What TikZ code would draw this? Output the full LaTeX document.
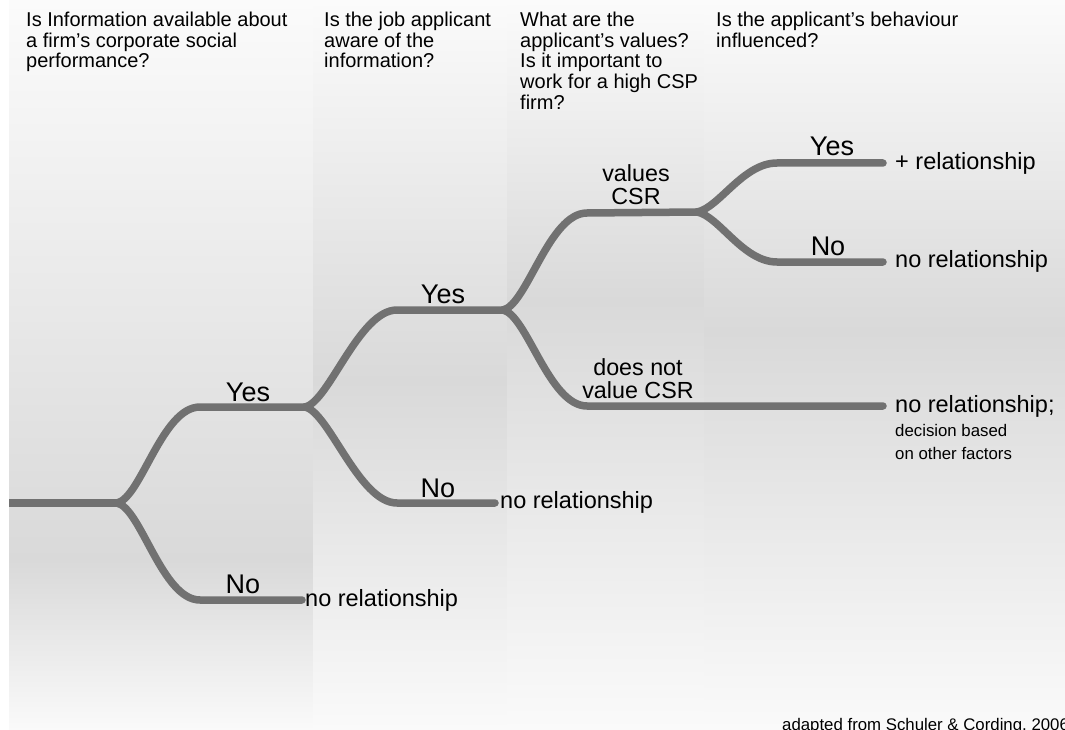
\documentclass[tikz,border=0pt]{standalone}
\usepackage{fontspec}
\setmainfont{Liberation Sans}
\newcommand\lstk[1]{\vtop{\halign{##\hfil\cr#1\crcr}}}
\newcommand\cstk[1]{\vtop{\halign{\hfil##\hfil\cr#1\crcr}}}
\definecolor{lineg}{HTML}{717171}
\definecolor{bgtop}{HTML}{FBFBFB}
\definecolor{bgdark}{HTML}{D9D9D9}
\definecolor{bgbot}{HTML}{FAFAFA}
\tikzset{
  branch/.style={draw=lineg, line width=7.5pt, line cap=round, line join=round},
  hdr/.style={font=\fontsize{20}{20.6}\selectfont, anchor=base west, inner sep=0pt},
  ansl/.style={font=\fontsize{27}{30}\selectfont, anchor=base, inner sep=0pt},
  vall/.style={font=\fontsize{23.3}{23}\selectfont, anchor=base, inner sep=0pt},
  resl/.style={font=\fontsize{23.5}{26}\selectfont, anchor=base west, inner sep=0pt},
  notel/.style={font=\fontsize{16.8}{23}\selectfont, anchor=base west, inner sep=0pt},
}
\begin{document}
\begin{tikzpicture}[x=1pt, y=-1pt]
\useasboundingbox (0,0) rectangle (1065,730);
\clip (0,0) rectangle (1065,730);
\fill[white] (0,0) rectangle (1065,730);
% background columns
\shade[top color=bgtop, bottom color=bgdark] (9,0) rectangle (313,561);
\shade[top color=bgdark, bottom color=bgbot] (9,560) rectangle (313,730);
\shade[top color=bgtop, bottom color=bgdark] (313,0) rectangle (507,381);
\shade[top color=bgdark, bottom color=bgbot] (313,380) rectangle (507,730);
\shade[top color=bgtop, bottom color=bgdark] (507,0) rectangle (704,301);
\shade[top color=bgdark, bottom color=bgbot] (507,300) rectangle (704,730);
\shade[top color=bgtop, bottom color=bgdark] (704,0) rectangle (1065,331);
\shade[top color=bgdark, bottom color=bgbot] (704,330) rectangle (1065,730);

% headers
\node[hdr] (q1) at (26,26.7) {\lstk{Is Information available about\cr a firm’s corporate social\cr performance?}};
\node[hdr] (q2) at (324,26.7) {\lstk{Is the job applicant\cr aware of the\cr information?}};
\node[hdr] (q3) at (520,26.7) {\lstk{What are the\cr applicant’s values?\cr Is it important to\cr work for a high CSP\cr firm?}};
\node[hdr] (q4) at (716,26.7) {\lstk{Is the applicant’s behaviour\cr influenced?}};

% tree points
\coordinate (root) at (9,503);
\coordinate (f1) at (117,503);
\coordinate (a1) at (200,407);
\coordinate (f2) at (305,407);
\coordinate (a2) at (200,600);
\coordinate (e1) at (302,600);
\coordinate (a3) at (397,310);
\coordinate (f3) at (503,310);
\coordinate (a4) at (397,503);
\coordinate (e2) at (495,503);
\coordinate (a5) at (587,213);
\coordinate (f4) at (697,212);
\coordinate (a6) at (587,406);
\coordinate (e3) at (883,406);
\coordinate (a7) at (777,163);
\coordinate (e4) at (883,163);
\coordinate (a8) at (777,262);
\coordinate (e5) at (883,262);

% branches
\draw[branch, line cap=butt] (root) -- (f1);
\draw[branch] (f1) .. controls +(24,-5) and +(-38,0) .. (a1) -- (f2);
\draw[branch] (f1) .. controls +(24,5) and +(-38,0) .. (a2) -- (e1);
\draw[branch] (f2) .. controls +(24,-5) and +(-38,0) .. (a3) -- (f3);
\draw[branch] (f2) .. controls +(24,5) and +(-38,0) .. (a4) -- (e2);
\draw[branch] (f3) .. controls +(24,-5) and +(-38,0) .. (a5) -- (f4);
\draw[branch] (f3) .. controls +(24,5) and +(-38,0) .. (a6) -- (e3);
\draw[branch] (f4) .. controls +(22,-4) and +(-34,0) .. (a7) -- (e4);
\draw[branch] (f4) .. controls +(22,4) and +(-34,0) .. (a8) -- (e5);

% branch labels
\node[ansl] (y1) at (248,401) {Yes};
\node[ansl] (n1) at (243,593) {No};
\node[ansl] (y2) at (443,303) {Yes};
\node[ansl] (n2) at (438,497) {No};
\node[vall] (v1) at (636,182) {\cstk{values\cr CSR}};
\node[vall] (v2) at (638,375) {\cstk{does not\cr value CSR}};
\node[ansl] (y3) at (832,156) {Yes};
\node[ansl] (n3) at (828,255) {No};

% outcomes
\node[resl] (r1) at (305,606) {no relationship};
\node[resl] (r2) at (500,508) {no relationship};
\node[resl] (r3) at (895,170) {+ relationship};
\node[resl] (r4) at (895,267) {no relationship};
\node[resl] (r5) at (895,412) {no relationship;};
\node[notel] (r5b) at (895,436) {\lstk{decision based\cr on other factors}};

% credit
\node[notel] (credit) at (782,730) {adapted from Schuler \& Cording, 2006};
\end{tikzpicture}
\end{document}
